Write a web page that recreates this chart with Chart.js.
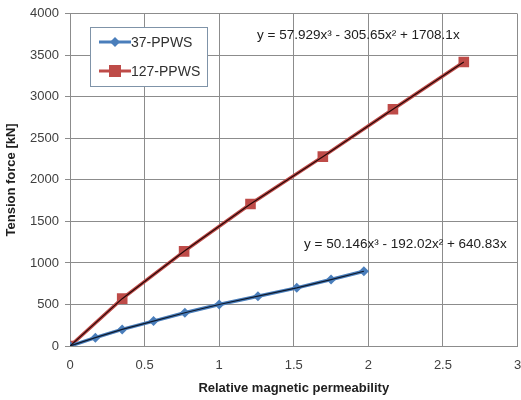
<!DOCTYPE html>
<html>
<head>
<meta charset="utf-8">
<script src="https://cdn.jsdelivr.net/npm/chart.js@4"></script>
<style>
  html, body { margin: 0; padding: 0; background: #ffffff; overflow: hidden; }
  #wrap { width: 521px; height: 400px; overflow: hidden; }
</style>
</head>
<body>
<div id="wrap"><canvas id="mycanvas" width="525" height="400"></canvas></div>
<script>
// data
var x37 = [0, 0.17, 0.35, 0.56, 0.77, 1.0, 1.26, 1.52, 1.75, 1.97];
var y37 = [0, 100, 200, 300, 400, 500, 600, 700, 800, 900];
var x127 = [0, 0.35, 0.765, 1.21, 1.695, 2.165, 2.64];
var y127 = [0, 570, 1140, 1710, 2280, 2850, 3420];
var seriesNames = ['37-PPWS', '127-PPWS'];
var eq37 = 'y = 50.146x\u00B3 - 192.02x\u00B2 + 640.83x';
var eq127 = 'y = 57.929x\u00B3 - 305.65x\u00B2 + 1708.1x';
var xTicks = [0, 0.5, 1, 1.5, 2, 2.5, 3];

function pts(xs, ys) {
  var out = [];
  for (var i = 0; i < xs.length; i++) out.push({x: xs[i], y: ys[i]});
  return out;
}

var blue = '#4a7ebb';
var red = '#be4b48';
var FONT = 'Liberation Sans';

// legend box + trendline equations drawn on top
var extras = {
  id: 'extras',
  afterDraw: function(chart) {
    var c = chart.ctx;
    c.save();
    // equations
    c.fillStyle = '#202020';
    c.font = '13.5px ' + FONT;
    c.textBaseline = 'middle';
    c.textAlign = 'left';
    c.fillText(eq127, 257, 35);
    c.fillText(eq37, 304, 244);
    // legend
    c.fillStyle = '#ffffff';
    c.fillRect(90, 27, 117, 59);
    c.strokeStyle = '#7f93a8';
    c.lineWidth = 1;
    c.strokeRect(90.5, 27.5, 117, 59);
    var rows = [{y: 42, col: blue, mk: 'diamond'}, {y: 71, col: red, mk: 'square'}];
    for (var i = 0; i < rows.length; i++) {
      var r = rows[i];
      c.strokeStyle = r.col;
      c.lineWidth = 3;
      c.beginPath(); c.moveTo(99, r.y); c.lineTo(131, r.y); c.stroke();
      c.fillStyle = r.col;
      if (r.mk === 'square') {
        c.fillRect(109, r.y - 6, 12, 12);
      } else {
        c.beginPath();
        c.moveTo(115, r.y - 5); c.lineTo(120, r.y); c.lineTo(115, r.y + 5); c.lineTo(110, r.y);
        c.closePath(); c.fill();
      }
      c.fillStyle = '#303030';
      c.font = '14px ' + FONT;
      c.fillText(seriesNames[i], 131, r.y + 1);
    }
    c.restore();
  }
};

var ctx = document.getElementById('mycanvas');

var chart = new Chart(ctx, {
  type: 'scatter',
  data: {
    datasets: [
      { // black trendline over blue series
        label: 'trend37',
        data: pts(x37, y37),
        showLine: true,
        borderColor: '#0e1a2e',
        borderWidth: 1.2,
        pointRadius: 0,
        order: 0
      },
      { // black trendline over red series
        label: 'trend127',
        data: pts(x127, y127),
        showLine: true,
        borderColor: '#2a0808',
        borderWidth: 1.2,
        pointRadius: 0,
        order: 0
      },
      {
        label: seriesNames[0],
        data: pts(x37, y37),
        showLine: true,
        borderColor: blue,
        borderWidth: 3.5,
        backgroundColor: blue,
        pointStyle: 'rectRot',
        pointRadius: 5,
        pointBorderWidth: 0,
        order: 1
      },
      {
        label: seriesNames[1],
        data: pts(x127, y127),
        showLine: true,
        borderColor: red,
        borderWidth: 3.5,
        backgroundColor: red,
        pointStyle: 'rect',
        pointRadius: 7.5,
        pointBorderWidth: 0,
        order: 1
      }
    ]
  },
  options: {
    responsive: false,
    animation: false,
    layout: { padding: { left: 4, right: 0, top: 7, bottom: 4 } },
    plugins: {
      legend: { display: false },
      tooltip: { enabled: false }
    },
    scales: {
      x: {
        type: 'linear',
        min: 0,
        max: 3,
        afterBuildTicks: function(s) { s.ticks = xTicks.map(function(v) { return {value: v}; }); },
        afterFit: function(s) { s.height = 50; s.paddingRight = 0; s.paddingLeft = 0; },
        grid: { color: '#8c8c8c', lineWidth: 1, drawTicks: false },
        border: { color: '#8c8c8c' },
        ticks: {
          color: '#404040', font: { family: FONT, size: 13 }, padding: 12,
          callback: function(v) { return String(v); }
        },
        title: {
          display: true,
          text: 'Relative magnetic permeability',
          color: '#202020',
          font: { family: FONT, size: 13, weight: 'bold' },
          padding: { top: 6, bottom: 0 }
        }
      },
      y: {
        min: 0,
        max: 4000,
        ticks: {
          stepSize: 500, color: '#404040', font: { family: FONT, size: 13 }, padding: 6,
          callback: function(v) { return String(v); }
        },
        afterFit: function(s) { s.width = 66; },
        grid: { color: '#8c8c8c', lineWidth: 1, tickLength: 5 },
        border: { color: '#8c8c8c' },
        title: {
          display: true,
          text: 'Tension force [kN]',
          color: '#202020',
          font: { family: FONT, size: 13, weight: 'bold' },
          padding: { top: 0, bottom: 2 }
        }
      }
    }
  },
  plugins: [extras]
});
</script>
</body>
</html>
